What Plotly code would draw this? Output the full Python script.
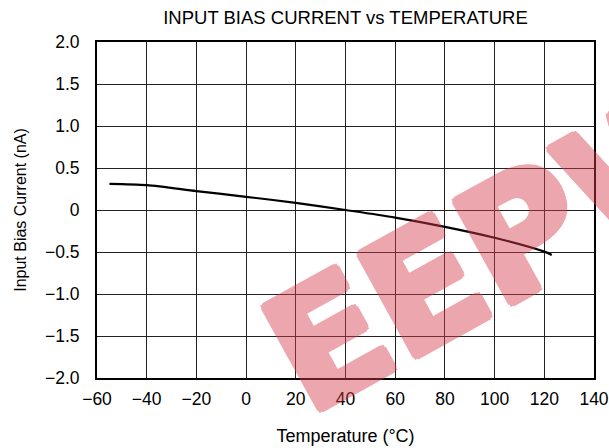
import plotly.graph_objects as go

temperature_c = [-55, -40, -20, 0, 20, 40, 60, 80, 100, 120, 123]
bias_current_na = [0.31, 0.295, 0.225, 0.157, 0.085, 0.0, -0.09, -0.2, -0.33, -0.496, -0.535]

x_ticks = [-60, -40, -20, 0, 20, 40, 60, 80, 100, 120, 140]
y_ticks = [2.0, 1.5, 1.0, 0.5, 0, -0.5, -1.0, -1.5, -2.0]
y_tick_text = ["2.0", "1.5", "1.0", "0.5", "0", "\u22120.5", "\u22121.0", "\u22121.5", "\u22122.0"]
x_tick_text = [str(v).replace("-", "\u2212") for v in x_ticks]

fig = go.Figure()
fig.add_trace(go.Scatter(
    x=temperature_c, y=bias_current_na, mode="lines",
    line=dict(color="black", width=2.2, shape="spline", smoothing=0.8),
    showlegend=False, hoverinfo="skip",
))

font_family = "Liberation Sans, Arial, sans-serif"

fig.update_layout(
    width=609, height=448,
    margin=dict(l=97, r=15, t=42, b=70, autoexpand=False),
    paper_bgcolor="white", plot_bgcolor="white",
    font=dict(family=font_family, size=17, color="black"),
    title=dict(text="INPUT BIAS CURRENT vs TEMPERATURE", x=0.5, xref="paper", xanchor="center",
               y=0.96, yanchor="middle", font=dict(size=18.5)),
    xaxis=dict(range=[-60, 140], tickvals=x_ticks, ticktext=x_tick_text,
               showgrid=True, gridcolor="#222", gridwidth=1,
               showline=True, linecolor="black", linewidth=2, mirror=True,
               ticks="", zeroline=False, ticklabelstandoff=4,
               ticklabeloverflow="allow", automargin=False,
               tickfont=dict(size=17.5),
               title=dict(text="Temperature (\u00b0C)", standoff=21, font=dict(size=18))),
    yaxis=dict(range=[-2, 2], tickvals=y_ticks, ticktext=y_tick_text,
               showgrid=True, gridcolor="#222", gridwidth=1,
               showline=True, linecolor="black", linewidth=2, mirror=True,
               ticks="", zeroline=False, ticklabelstandoff=12, automargin=False,
               tickfont=dict(size=17.5),
               title=dict(text="Input Bias Current (nA)", standoff=14, font=dict(size=16))),
)

wm = "rgb(215,60,75)"
shadow = ", ".join(f"{dx}px {dy}px 0 {wm}" for dx, dy in
                   [(4, 0), (-4, 0), (0, 4), (0, -4), (3, 3), (-3, -3), (3, -3), (-3, 3)])
fig.add_annotation(
    text="<b>EEPW</b>", xref="paper", yref="paper", x=0.82, y=0.40,
    xanchor="center", yanchor="middle", showarrow=False, textangle=-29,
    opacity=0.45,
    font=dict(family="DejaVu Sans, sans-serif", size=160, color=wm, shadow=shadow),
)

fig.write_html("out.html", config={"displayModeBar": False},
               post_script="document.body.style.margin='0';document.body.style.overflow='hidden';")
